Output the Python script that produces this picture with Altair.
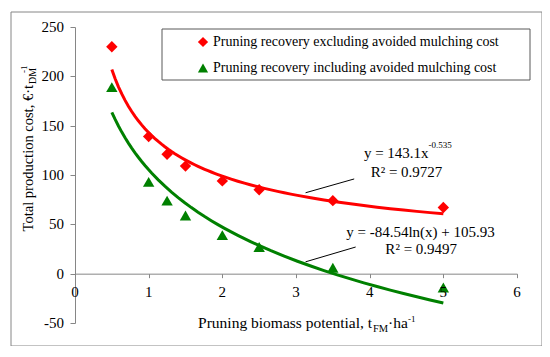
import altair as alt
import pandas as pd

# ---- data ----
x_vals = [0.5, 1, 1.25, 1.5, 2, 2.5, 3.5, 5]
excl_vals = [230, 139, 121, 109, 94, 85, 74, 67]
incl_vals = [189, 93, 74, 59, 39, 27, 6, -14]
series_names = [
    "Pruning recovery excluding avoided mulching cost",
    "Pruning recovery including avoided mulching cost",
]
x_ticks = [0, 1, 2, 3, 4, 5, 6]
y_ticks = [-50, 0, 50, 100, 150, 200, 250]

# annotation texts (equation labels)
eq_red = "y = 143.1x"
eq_red_exp = "-0.535"
r2_red = "R² = 0.9727"
eq_green = "y = -84.54ln(x) + 105.93"
r2_green = "R² = 0.9497"

df = pd.DataFrame({
    "x": x_vals * 2,
    "y": excl_vals + incl_vals,
    "s": [series_names[0]] * len(x_vals) + [series_names[1]] * len(x_vals),
})

FONT = "Liberation Serif"
GRAY = "#868686"
RED = "#ff0000"
GREEN = "#008000"
colors = [RED, GREEN]
shapes = ["diamond", "triangle-up"]

x_enc = alt.X(
    "x:Q",
    scale=alt.Scale(domain=[0, 6], nice=False, zero=False),
    axis=alt.Axis(values=x_ticks, offset=-49.33, title=None, grid=False,
                  domainColor=GRAY, tickColor=GRAY, tickSize=4, labels=False),
)
y_enc = alt.Y(
    "y:Q",
    scale=alt.Scale(domain=[-50, 250], nice=False, zero=False),
    axis=alt.Axis(values=y_ticks, title=None, grid=False,
                  domainColor=GRAY, tickColor=GRAY, tickSize=5, labels=False),
)

color_scale = alt.Scale(domain=series_names, range=colors)
shape_scale = alt.Scale(domain=series_names, range=shapes)

base = alt.Chart(df)
one = pd.DataFrame({"k": [0]})

border = alt.Chart(one).mark_rect(
    fill="transparent", stroke=GRAY, strokeWidth=1
).encode(x=alt.value(-64), x2=alt.value(467), y=alt.value(-15), y2=alt.value(319))

points = base.mark_point(filled=True, size=130, opacity=1).encode(
    x=x_enc, y=y_enc,
    color=alt.Color("s:N", scale=color_scale, legend=None),
    shape=alt.Shape("s:N", scale=shape_scale, legend=None),
)

line_red = base.transform_filter(alt.datum.s == series_names[0]).transform_regression(
    "x", "y", method="pow"
).mark_line(color=RED, strokeWidth=3).encode(x=x_enc, y=y_enc)

line_green = base.transform_filter(alt.datum.s == series_names[1]).transform_regression(
    "x", "y", method="log"
).mark_line(color=GREEN, strokeWidth=3).encode(x=x_enc, y=y_enc)

# tick labels (drawn as text so the serif font is honoured)
xlab = alt.Chart(pd.DataFrame({"x": x_ticks, "y": [0] * len(x_ticks),
                               "t": [str(v) for v in x_ticks]})).mark_text(
    font=FONT, fontSize=15, align="center", baseline="middle", dy=18, color="black"
).encode(x=x_enc, y=y_enc, text="t:N")
ylab = alt.Chart(pd.DataFrame({"x": [0] * len(y_ticks), "y": y_ticks,
                               "t": [str(v) for v in y_ticks]})).mark_text(
    font=FONT, fontSize=15, align="right", baseline="middle", dx=-11, color="black"
).encode(x=x_enc, y=y_enc, text="t:N")

leaders = alt.Chart(pd.DataFrame({
    "x": [3.13, 3.13], "y": [82, 12], "x2": [3.79, 3.81], "y2": [96, 27],
})).mark_rule(color="black", strokeWidth=1).encode(
    x=x_enc, y=y_enc, x2="x2:Q", y2="y2:Q")

ann_right = alt.Chart(pd.DataFrame({"x": [4.80], "y": [122.6], "t": [eq_red]})).mark_text(
    font=FONT, fontSize=15, align="right", baseline="middle", color="black"
).encode(x=x_enc, y=y_enc, text="t:N")

ann_sup = alt.Chart(pd.DataFrame({"x": [4.80], "y": [130.5], "t": [eq_red_exp]})).mark_text(
    font=FONT, fontSize=9, align="left", baseline="middle", color="black"
).encode(x=x_enc, y=y_enc, text="t:N")

ann_center = alt.Chart(pd.DataFrame({
    "x": [4.50, 4.69, 4.70], "y": [103.4, 42.6, 25.3], "t": [r2_red, eq_green, r2_green],
})).mark_text(
    font=FONT, fontSize=15, align="center", baseline="middle", color="black"
).encode(x=x_enc, y=y_enc, text="t:N")

def txt(s, x, y, size, align, baseline, angle=0):
    kw = dict(font=FONT, fontSize=size, align=align, baseline=baseline, color="black", text=s)
    if angle:
        kw["angle"] = angle
    return alt.Chart(one).mark_text(**kw).encode(x=alt.value(x), y=alt.value(y))

# axis titles with sub/superscripts
ytitle = [
    txt("Total production cost, €·t", -46, 58, 14.5, "right", "middle", 270),
    txt("DM", -42, 57, 10, "left", "middle", 270),
    txt("-1", -51, 46, 9, "left", "middle", 270),
]
xtitle = [
    txt("Pruning biomass potential, t", 297, 301, 15.5, "right", "alphabetic"),
    txt("FM", 298, 305, 10.5, "left", "alphabetic"),
    txt("·ha", 313, 301, 15.5, "left", "alphabetic"),
    txt("-1", 333, 295, 9, "left", "alphabetic"),
]

# legend (box, symbols, labels)
legend_box = alt.Chart(one).mark_rect(
    fill="white", stroke="#595959", strokeWidth=1
).encode(x=alt.value(87), x2=alt.value(455), y=alt.value(2), y2=alt.value(53))
legend_items = []
for i, name in enumerate(series_names):
    yy = 15 + 26 * i
    legend_items.append(
        alt.Chart(one).mark_point(filled=True, opacity=1, size=105, shape=shapes[i],
                                  color=colors[i]).encode(x=alt.value(128), y=alt.value(yy)))
    legend_items.append(txt(name, 138, yy, 14, "left", "middle"))

chart = alt.layer(
    border, points, line_red, line_green, xlab, ylab, leaders, ann_right, ann_sup,
    ann_center, *ytitle, *xtitle, legend_box, *legend_items
).properties(
    width=442, height=296,
    padding={"left": 67, "top": 19, "right": 25, "bottom": 23},
    autosize=alt.AutoSizeParams(type="none"),
).configure_view(stroke=None)

chart.save("out.html", embed_options={"renderer": "svg", "actions": False})
